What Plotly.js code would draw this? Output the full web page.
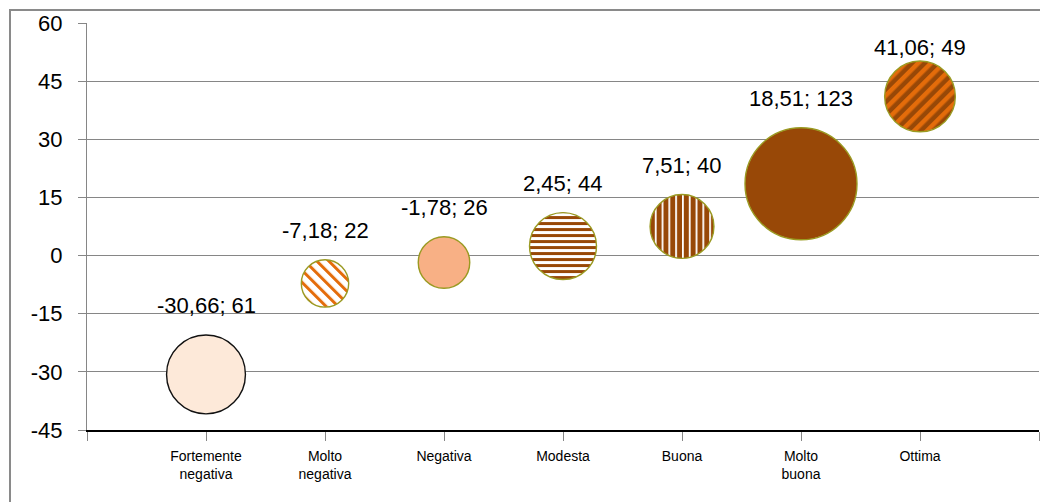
<!DOCTYPE html>
<html>
<head>
<meta charset="utf-8">
<script src="https://cdn.plot.ly/plotly-3.0.1.min.js"></script>
<style>
  html, body { margin: 0; padding: 0; background: #ffffff; }
  #wrap { position: relative; width: 1040px; height: 502px; overflow: hidden; }
  #chart { position: absolute; left: 0; top: 0; width: 1040px; height: 502px; }
  #frame { position: absolute; left: 9px; top: 9px; width: 1100px; height: 600px;
           border-left: 2px solid #8a8a8a; border-top: 2px solid #8a8a8a; pointer-events: none; }
</style>
</head>
<body>
<div id="wrap"><div id="chart"></div><div id="frame"></div></div>
<script>
// Giudizio categories along the x axis
const categories = ['Fortemente<br>negativa', 'Molto<br>negativa', 'Negativa', 'Modesta', 'Buona', 'Molto<br>buona', 'Ottima'];
const positions = [1, 2, 3, 4, 5, 6, 7];
// Average score (y) and number of cases (bubble size)
const scores = [-30.66, -7.18, -1.78, 2.45, 7.51, 18.51, 41.06];
const counts = [61, 22, 26, 44, 40, 123, 49];
// Y axis tick values
const yTicks = [-45, -30, -15, 0, 15, 30, 45, 60];

// Bubble styling: base colour, outline and fill pattern
const FONT = 'Arial, "Liberation Sans", sans-serif';
const BROWN = '#984807', ORANGE = '#E46C0A', OLIVE = '#9A9A22';
const baseColors = ['#FDE9D9', '#FFFFFF', '#F8B085', '#FFFFFF', BROWN, BROWN, ORANGE];
const lineColors = ['#111111', OLIVE, OLIVE, OLIVE, OLIVE, OLIVE, OLIVE];
const fillPatterns = [null, 'pat-diag-down', null, 'pat-horiz', 'pat-vert', null, 'pat-diag-up'];

// largest bubble drawn 112 px across
const SIZEREF = 2 * Math.max(...counts) / (112 * 112);
const fmt = v => v.toFixed(2).replace('.', ',');
const labels = scores.map((s, i) => fmt(s) + '; ' + counts[i]);

const trace = {
  type: 'scatter',
  mode: 'markers',
  x: positions,
  y: scores,
  hoverinfo: 'skip',
  cliponaxis: false,
  marker: {
    size: counts,
    sizemode: 'area',
    sizeref: SIZEREF,
    color: baseColors,
    opacity: 1,
    line: { color: lineColors, width: 1.4 }
  }
};

const layout = {
  width: 1040,
  height: 502,
  margin: { l: 87, r: 1, t: 23, b: 72, pad: 0 },
  paper_bgcolor: 'rgba(0,0,0,0)',
  plot_bgcolor: '#ffffff',
  showlegend: false,
  font: { family: FONT, color: '#000000' },
  xaxis: {
    range: [0, 8],
    tickmode: 'array',
    tickvals: [0].concat(positions, [8]),
    ticktext: [''].concat(categories, ['']),
    ticks: 'outside',
    ticklen: 9,
    tickwidth: 1,
    tickcolor: '#868686',
    showgrid: false,
    zeroline: false,
    showline: true,
    linecolor: '#000000',
    linewidth: 2,
    tickfont: { family: FONT, size: 14, color: '#000000' },
    ticklabelstandoff: 3,
    fixedrange: true
  },
  yaxis: {
    range: [-45, 60],
    tickmode: 'array',
    tickvals: yTicks,
    ticktext: yTicks.map(String),
    ticks: 'outside',
    ticklen: 8,
    tickwidth: 1,
    tickcolor: '#868686',
    showgrid: true,
    gridcolor: '#868686',
    gridwidth: 1,
    zeroline: false,
    showline: true,
    linecolor: '#868686',
    linewidth: 1,
    tickfont: { family: FONT, size: 22, color: '#000000' },
    ticklabelstandoff: 11,
    fixedrange: true
  }
};

// on-screen radius of a bubble, in px
function bubbleRadius(size) {
  return Math.sqrt(size / 2 / SIZEREF);
}

function svgEl(name, attrs) {
  const el = document.createElementNS('http://www.w3.org/2000/svg', name);
  for (const k in attrs) el.setAttribute(k, attrs[k]);
  return el;
}

function stripePattern(id, period, stripe, bg, fg, angle) {
  const p = svgEl('pattern', { id: id, patternUnits: 'userSpaceOnUse', width: period, height: period,
                               patternTransform: 'rotate(' + angle + ')' });
  p.appendChild(svgEl('rect', { x: 0, y: 0, width: period, height: period, fill: bg }));
  p.appendChild(svgEl('rect', { x: 0, y: 0, width: stripe, height: period, fill: fg }));
  return p;
}

function applyPatterns(gd) {
  const svg = gd.querySelector('.main-svg');
  let defs = svg.querySelector('#bubble-patterns');
  if (!defs) {
    defs = svgEl('defs', { id: 'bubble-patterns' });
    defs.appendChild(stripePattern('pat-diag-down', 8.5, 3, '#ffffff', ORANGE, -45));
    defs.appendChild(stripePattern('pat-diag-up', 9, 4.5, BROWN, ORANGE, 45));
    defs.appendChild(stripePattern('pat-horiz', 6, 3, '#ffffff', BROWN, 90));
    defs.appendChild(stripePattern('pat-vert', 6.8, 1.8, BROWN, '#ffffff', 0));
    svg.insertBefore(defs, svg.firstChild);
  }
  const pts = gd.querySelectorAll('.scatterlayer .trace .points path');
  pts.forEach((p, i) => {
    if (fillPatterns[i]) p.style.fill = 'url(#' + fillPatterns[i] + ')';
  });
}

const gd = document.getElementById('chart');
Plotly.newPlot(gd, [trace], layout, { staticPlot: true, displayModeBar: false }).then(() => {
  const ya = gd._fullLayout.yaxis;
  const plotTop = gd._fullLayout._size.t;
  const annotations = scores.map((s, i) => {
    const cy = ya.l2p(s) + plotTop;
    const r = bubbleRadius(counts[i]);
    const labelY = Math.max(cy - r - 29, plotTop + 24);
    return {
      x: positions[i], y: s, xref: 'x', yref: 'y',
      text: labels[i], showarrow: false,
      xanchor: 'center', yanchor: 'middle',
      yshift: cy - labelY,
      font: { family: FONT, size: 22, color: '#000000' }
    };
  });
  return Plotly.relayout(gd, { annotations: annotations });
}).then(() => applyPatterns(gd));
</script>
</body>
</html>
